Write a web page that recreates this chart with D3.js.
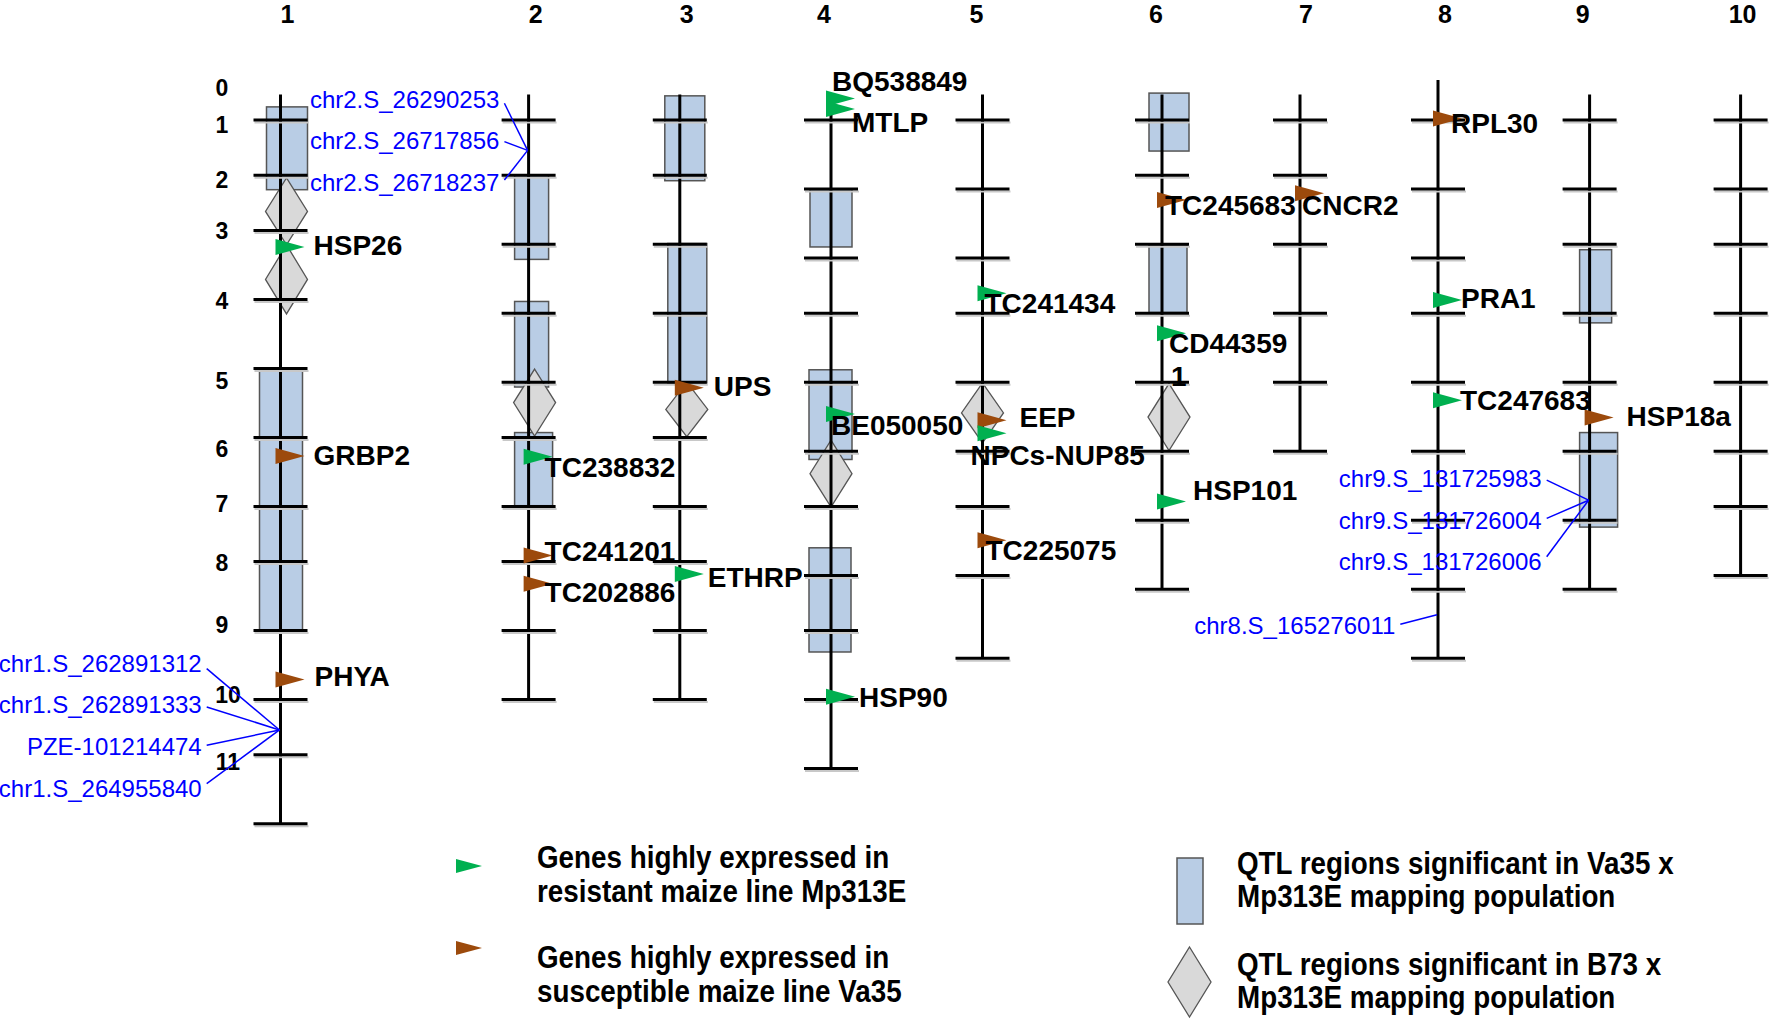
<!DOCTYPE html>
<html>
<head>
<meta charset="utf-8">
<script src="https://cdn.jsdelivr.net/npm/d3@7"></script>
<style>
  body { margin: 0; background: #fff; }
  svg text { font-family: "Liberation Sans", Arial, sans-serif; }
</style>
</head>
<body>
<div id="chart"></div>
<script>
// ---- data (map positions in bin units) ----
var chromNames = ["1", "2", "3", "4", "5", "6", "7", "8", "9", "10"];
var chromTop = [6.3, 6.3, 6.3, 6.3, 6.3, 6.3, 6.3, 4.2, 6.3, 6.3];
var chromTicks = [
  [10, 18, 26, 36, 46, 56, 66, 74, 84, 94, 102, 112],
  [10, 18, 28, 38, 48, 56, 66, 74, 84, 94],
  [10, 18, 28, 38, 48, 56, 66, 74, 84, 94],
  [10, 20, 30, 38, 48, 58, 66, 76, 84, 94, 104],
  [10, 20, 30, 38, 48, 58, 66, 76, 88],
  [10, 18, 28, 38, 48, 58, 68, 78],
  [10, 18, 28, 38, 48, 58],
  [10, 20, 30, 38, 48, 58, 68, 78, 88],
  [10, 20, 28, 38, 48, 58, 68, 78],
  [10, 20, 28, 38, 48, 58, 66, 76]
];

// QTL regions, Va35 x Mp313E (boxes)
var boxChrom = ["1", "1", "2", "2", "2", "3", "3", "4", "4", "4", "6", "6", "9", "9"];
var boxStart = [8.1, 46.1, 18.0, 36.3, 55.3, 6.5, 27.9, 20.1, 46.2, 72.0, 6.1, 28.1, 28.8, 55.3];
var boxEnd   = [20.1, 84.2, 30.2, 48.7, 65.9, 18.8, 48.1, 28.4, 59.2, 87.1, 14.5, 37.9, 39.4, 69.0];

// QTL regions, B73 x Mp313E (diamonds)
var diaChrom = ["1", "1", "2", "3", "4", "5", "6"];
var diaStart = [18.4, 28.1, 46.1, 48.0, 56.4, 48.1, 48.2];
var diaEnd   = [28.1, 38.1, 55.8, 55.9, 66.1, 56.8, 57.9];

// expressed genes: R = resistant line Mp313E, S = susceptible line Va35
var geneChrom = ["1", "1", "1", "2", "2", "2", "3", "3", "4", "4", "4", "4",
                 "5", "5", "5", "5", "6", "6", "6", "7", "8", "8", "8", "9"];
var genePos = [28.4, 58.7, 91.1, 58.8, 73.1, 77.2, 48.8, 75.8, 6.9, 8.4, 52.6, 93.6,
               35.1, 53.5, 55.4, 70.9, 21.6, 40.9, 65.3, 20.6, 9.8, 36.1, 50.6, 53.1];
var geneLine = ["R", "S", "S", "R", "S", "S", "S", "R", "R", "R", "R", "R",
                "R", "S", "R", "S", "S", "R", "R", "S", "S", "R", "R", "S"];
var geneName = ["HSP26", "GRBP2", "PHYA", "TC238832", "TC241201", "TC202886", "UPS", "ETHRP",
                "BQ538849", "MTLP", "BE050050", "HSP90", "TC241434", "EEP", "NPCs-NUP85", "TC225075",
                "TC245683", "CD443591", "HSP101", "CNCR2", "RPL30", "PRA1", "TC247683", "HSP18a"];

// SNP markers
var snpChrom = ["1", "2", "8", "9"];
var snpPos = [98.4, 14.4, 81.7, 65.1];
var snpNames = [
  ["chr1.S_262891312", "chr1.S_262891333", "PZE-101214474", "chr1.S_264955840"],
  ["chr2.S_26290253", "chr2.S_26717856", "chr2.S_26718237"],
  ["chr8.S_165276011"],
  ["chr9.S_131725983", "chr9.S_131726004", "chr9.S_131726006"]
];

// bin labels on the left
var binLabels = ["0", "1", "2", "3", "4", "5", "6", "7", "8", "9", "10", "11"];
var binPos = [5.3, 10.7, 18.7, 26.1, 36.3, 47.8, 57.7, 65.6, 74.2, 83.2, 93.3, 103.0];

// ---- layout ----
var width = 1772, height = 1020;
var chromX = [280.5, 528.6, 679.8, 831, 982.5, 1162, 1300, 1438, 1589.6, 1740.6];
var headerDx = [7, 7, 7, -7, -6, -6, 6, 7, -7, 2];
var boxDx = [-14, -21, -14, -14, -14, -15, -12, -21, -22, -22, -13, -13, -10, -10];
var boxW  = [41, 43, 34, 34, 38, 40, 39, 42, 43, 42, 40, 38, 32, 38];
var diaDx = [6, 6, 6, 7, 0, 0, 7];
var labelNudge = [[33, -1], [33, -1], [34, -3], [16, 11], [16, -4], [16, 9], [34, -1], [28, 3],
                  [1, -17], [21, 14], [0, 12], [28, 1], [2, 10], [37, -3], [-12, 22], [3, 10],
                  [3, 5], [7, 10], [31, -11], [2, 12], [13, 5], [23, -2], [22, 0], [37, -1]];
var snpLabelRight = [201.7, 499.4, 1395.3, 1541.7];
var snpLabelMid = [725.8, 140.9, 625, 520];
var snpGap = 41.7;

var green = "#00b050", brown = "#9c4a0c";
var boxFill = "#b9cde5", diaFill = "#d9d9d9", edge = "#555";

var svg = d3.select("#chart").append("svg")
  .attr("width", width)
  .attr("height", height);

var y = d3.scaleLinear().domain([0, 112]).range([51, 51 + 112 * 6.9]);
var x = d3.scaleOrdinal().domain(chromNames).range(chromX);

// column headers
svg.append("g").selectAll("text")
  .data(chromNames)
  .join("text")
  .attr("x", (d, i) => x(d) + headerDx[i])
  .attr("y", 14)
  .attr("text-anchor", "middle")
  .attr("dominant-baseline", "central")
  .style("font-size", "25px")
  .style("font-weight", "bold")
  .text(d => d);

// bin labels
svg.append("g").selectAll("text")
  .data(binLabels)
  .join("text")
  .attr("x", d => 222 + (d.length - 1) * 6)
  .attr("y", (d, i) => y(binPos[i]))
  .attr("text-anchor", "middle")
  .attr("dominant-baseline", "central")
  .style("font-size", "23px")
  .style("font-weight", "bold")
  .text(d => d);

// QTL boxes
svg.append("g").selectAll("rect")
  .data(boxChrom)
  .join("rect")
  .attr("x", (d, i) => x(d) + boxDx[i])
  .attr("y", (d, i) => y(boxStart[i]))
  .attr("width", (d, i) => boxW[i])
  .attr("height", (d, i) => y(boxEnd[i]) - y(boxStart[i]))
  .attr("fill", boxFill)
  .attr("stroke", edge)
  .attr("stroke-width", 1.5);

// QTL diamonds
svg.append("g").selectAll("path")
  .data(diaChrom)
  .join("path")
  .attr("d", (d, i) => {
    var cx = x(d) + diaDx[i], y0 = y(diaStart[i]), y1 = y(diaEnd[i]), ym = (y0 + y1) / 2;
    return "M" + cx + "," + y0 + "L" + (cx + 21) + "," + ym + "L" + cx + "," + y1 + "L" + (cx - 21) + "," + ym + "Z";
  })
  .attr("fill", diaFill)
  .attr("stroke", edge)
  .attr("stroke-width", 1.3);

// chromosomes
var chrom = svg.append("g").selectAll("g")
  .data(chromNames)
  .join("g");

chrom.append("line")
  .attr("x1", d => x(d)).attr("x2", d => x(d))
  .attr("y1", (d, i) => y(chromTop[i]))
  .attr("y2", (d, i) => y(d3.max(chromTicks[i])))
  .attr("stroke", "#000")
  .attr("stroke-width", 3);

chrom.each(function(d, i) {
  d3.select(this).selectAll(".tick-shadow")
    .data(chromTicks[i])
    .join("line")
    .attr("class", "tick-shadow")
    .attr("x1", x(d) - 26).attr("x2", x(d) + 28)
    .attr("y1", t => y(t) + 2.5).attr("y2", t => y(t) + 2.5)
    .attr("stroke", "#c8c8c8")
    .attr("stroke-width", 2);
  d3.select(this).selectAll(".tick")
    .data(chromTicks[i])
    .join("line")
    .attr("class", "tick")
    .attr("x1", x(d) - 27).attr("x2", x(d) + 27)
    .attr("y1", t => y(t)).attr("y2", t => y(t))
    .attr("stroke", "#000")
    .attr("stroke-width", 3);
});

// gene markers
svg.append("g").selectAll("path")
  .data(geneName)
  .join("path")
  .attr("d", (d, i) => {
    var cx = x(geneChrom[i]), cy = y(genePos[i]);
    return "M" + (cx - 5) + "," + (cy - 8) + "L" + (cx + 24) + "," + cy + "L" + (cx - 5) + "," + (cy + 8) + "Z";
  })
  .attr("fill", (d, i) => geneLine[i] === "R" ? green : brown);

// gene labels
svg.append("g").selectAll("text")
  .data(geneName)
  .join("text")
  .attr("x", (d, i) => x(geneChrom[i]) + labelNudge[i][0])
  .attr("y", (d, i) => y(genePos[i]) + labelNudge[i][1])
  .attr("dominant-baseline", "central")
  .style("font-size", "28px")
  .style("font-weight", "bold")
  .each(function(d, i) {
    var t = d3.select(this);
    // long name wraps its last character onto a second line
    if (d === "CD443591") {
      t.append("tspan").text(d.slice(0, 7));
      t.append("tspan")
        .attr("x", x(geneChrom[i]) + labelNudge[i][0] + 2)
        .attr("dy", 33)
        .text(d.slice(7));
    } else {
      t.text(d);
    }
  });

// SNP markers with leader lines
snpChrom.forEach((c, g) => {
  var tx = x(c), ty = y(snpPos[g]);
  var n = snpNames[g].length;
  var grp = svg.append("g");
  snpNames[g].forEach((name, k) => {
    var ly = snpLabelMid[g] + (k - (n - 1) / 2) * snpGap;
    grp.append("text")
      .attr("x", snpLabelRight[g])
      .attr("y", ly)
      .attr("text-anchor", "end")
      .attr("dominant-baseline", "central")
      .style("font-size", "24px")
      .attr("fill", "#0000ff")
      .text(name);
    grp.append("line")
      .attr("x1", snpLabelRight[g] + 5)
      .attr("y1", ly + (ty - ly) * 0.08)
      .attr("x2", tx - 1)
      .attr("y2", ty)
      .attr("stroke", "#0000ff")
      .attr("stroke-width", 1.5);
  });
});

// legend
var legend = svg.append("g");
legend.append("path")
  .attr("d", "M456,859L482,866L456,873Z")
  .attr("fill", green);
legend.append("path")
  .attr("d", "M456,941L482,948L456,955Z")
  .attr("fill", brown);
legend.append("rect")
  .attr("x", 1177).attr("y", 858).attr("width", 26).attr("height", 66)
  .attr("fill", boxFill).attr("stroke", edge).attr("stroke-width", 1.5);
legend.append("path")
  .attr("d", "M1189.5,947L1211,982L1189.5,1017L1168,982Z")
  .attr("fill", diaFill).attr("stroke", edge).attr("stroke-width", 1.3);

var legendText = [
  ["Genes highly expressed in", 537, 858],
  ["resistant maize line Mp313E", 537, 892],
  ["Genes highly expressed in", 537, 958],
  ["susceptible maize line Va35", 537, 992],
  ["QTL regions significant in Va35 x", 1237, 864],
  ["Mp313E mapping population", 1237, 897],
  ["QTL regions significant in B73 x", 1237, 965],
  ["Mp313E mapping population", 1237, 998]
];
legend.selectAll("text")
  .data(legendText)
  .join("text")
  .attr("transform", d => "translate(" + d[1] + "," + d[2] + ") scale(1,1.1)")
  .attr("dominant-baseline", "central")
  .style("font-size", "27.8px")
  .style("font-weight", "bold")
  .text(d => d[0]);
</script>
</body>
</html>
